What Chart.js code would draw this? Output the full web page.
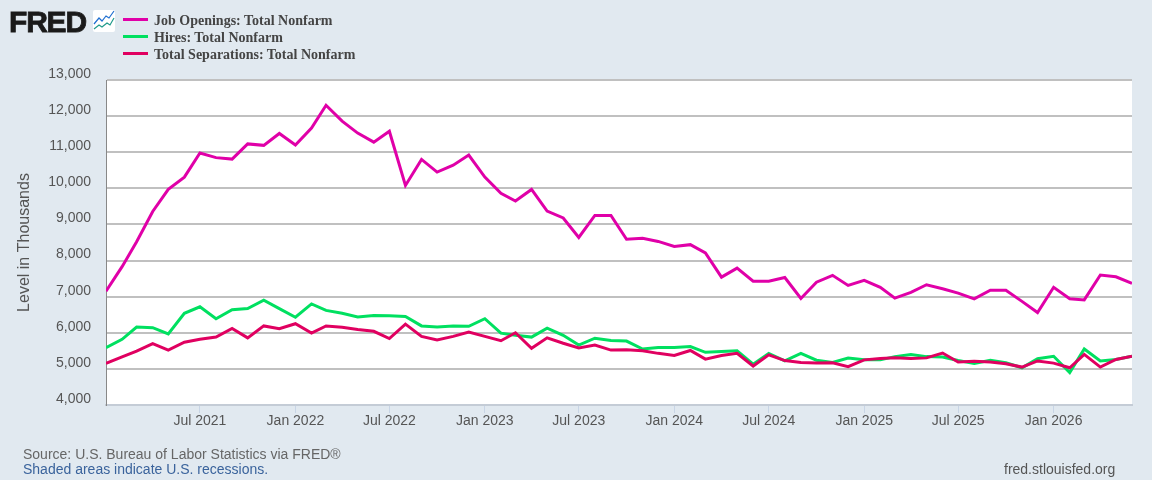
<!DOCTYPE html>
<html>
<head>
<meta charset="utf-8">
<title>FRED chart</title>
<script src="https://cdn.jsdelivr.net/npm/chart.js@4"></script>
<style>
  html, body { margin: 0; padding: 0; background: #e1e9f0; }
  #wrap { position: relative; width: 1152px; height: 480px; overflow: hidden; font-family: "Liberation Sans", Arial, sans-serif; }
  canvas { position: absolute; left: 0; top: 0; }
  .logo { position: absolute; left: 9px; top: 3px; font-size: 30px; line-height: 38px; font-weight: bold; color: #1a1a1a; letter-spacing: -1.2px; -webkit-text-stroke: 0.8px #1a1a1a; }
  .icon { position: absolute; left: 93px; top: 10px; }
  .legend { position: absolute; left: 123px; top: 12px; font-family: "Liberation Serif", serif; font-weight: bold; font-size: 14px; color: #444; }
  .legend div { height: 17px; line-height: 17px; white-space: nowrap; }
  .legend i { display: inline-block; width: 25px; height: 3px; margin-right: 6px; vertical-align: 4px; }
  .note { position: absolute; font-size: 14px; line-height: 16px; white-space: nowrap; }
</style>
</head>
<body>
<div id="wrap">
  <canvas id="chart" width="1152" height="480"></canvas>
  <div class="logo">FRED</div>
  <svg class="icon" width="22" height="22" viewBox="0 0 22 22">
    <rect width="22" height="22" rx="2" fill="#fff"/>
    <polyline points="1,14 6,8 9,11 13,6 16,8 21,1" fill="none" stroke="#1f6fd0" stroke-width="1.2"/>
    <polyline points="1,19 6,15 9,17 14,13 17,15 21,8" fill="none" stroke="#1f9a8a" stroke-width="1.2"/>
  </svg>
  <div class="legend" id="legend"></div>
  <div class="note" style="left:23px;top:446px;color:#666">Source: U.S. Bureau of Labor Statistics via FRED®</div>
  <div class="note" style="left:23px;top:461px;color:#3a639c">Shaded areas indicate U.S. recessions.</div>
  <div class="note" style="left:1004px;top:461px;color:#555">fred.stlouisfed.org</div>
</div>
<script>
// Datos (miles), enero 2021 a junio 2026
const startYear = 2021;
const jobOpenings = [
  7150, 7830, 8520, 9360, 9970, 10310, 10980, 10850, 10810, 11230, 11190, 11520,
  11200, 11670, 12300, 11860, 11530, 11280, 11580, 10080, 10800, 10450, 10640, 10920,
  10310, 9860, 9650, 9970, 9370, 9180, 8640, 9250, 9250, 8590, 8620, 8530,
  8390, 8440, 8210, 7540, 7790, 7430, 7430, 7530, 6950, 7400, 7590, 7310,
  7450, 7260, 6960, 7120, 7330, 7220, 7100, 6940, 7180, 7180, 6870, 6560,
  7260, 6940, 6910, 7600, 7550, 7370
];
const hires = [
  5590, 5820, 6160, 6140, 5970, 6540, 6720, 6390, 6640, 6670, 6900, 6670,
  6430, 6800, 6620, 6540, 6440, 6480, 6470, 6450, 6190, 6160, 6190, 6180,
  6390, 5990, 5930, 5880, 6130, 5930, 5660, 5850, 5785, 5770, 5550, 5590,
  5590, 5620, 5460, 5480, 5500, 5130, 5430, 5220, 5430, 5240, 5180, 5300,
  5250, 5250, 5340, 5400, 5340, 5330, 5230, 5150, 5240, 5170, 5030, 5280,
  5350, 4900, 5550, 5220, 5260, 5350
];
const separations = [
  5150, 5330, 5490, 5700, 5520, 5740, 5820, 5880, 6120, 5860, 6190, 6110,
  6250, 5990, 6190, 6150, 6090, 6040, 5840, 6240, 5900, 5800, 5900, 6020,
  5900, 5780, 6000, 5570, 5860, 5710, 5580, 5660, 5520, 5530, 5500, 5430,
  5370, 5510, 5270, 5370, 5430, 5080, 5390, 5230, 5180, 5160, 5170, 5060,
  5250, 5290, 5305, 5290, 5305, 5440, 5190, 5210, 5190, 5140, 5050, 5220,
  5160, 5030, 5400, 5050, 5260, 5350
];
const seriesNames = ['Job Openings: Total Nonfarm', 'Hires: Total Nonfarm', 'Total Separations: Total Nonfarm'];
const seriesColors = ['#e000a8', '#00e060', '#e00060'];
const tickLabels = ['Jul 2021', 'Jan 2022', 'Jul 2022', 'Jan 2023', 'Jul 2023', 'Jan 2024', 'Jul 2024', 'Jan 2025', 'Jul 2025', 'Jan 2026'];
const monthNames = ['Jan', 'Feb', 'Mar', 'Apr', 'May', 'Jun', 'Jul', 'Aug', 'Sep', 'Oct', 'Nov', 'Dec'];

function monthTime(i) {
  return Date.UTC(startYear, i, 1);
}
function labelTime(label) {
  const parts = label.split(' ');
  return Date.UTC(Number(parts[1]), monthNames.indexOf(parts[0]), 1);
}
function points(values) {
  return values.map((v, i) => ({ x: monthTime(i), y: v }));
}

// Leyenda
document.getElementById('legend').innerHTML = seriesNames.map((name, i) =>
  `<div><i style="background:${seriesColors[i]}"></i>${name}</div>`).join('');

// Fondo blanco del area de trazado
const plotBackground = {
  id: 'plotBackground',
  beforeDraw(chart) {
    const a = chart.chartArea;
    chart.ctx.fillStyle = '#fff';
    chart.ctx.fillRect(a.left, a.top, a.width, a.height);
  }
};

new Chart(document.getElementById('chart').getContext('2d'), {
  type: 'line',
  plugins: [plotBackground],
  data: {
    datasets: [
      { label: seriesNames[0], data: points(jobOpenings), borderColor: seriesColors[0], order: 3 },
      { label: seriesNames[1], data: points(hires), borderColor: seriesColors[1], order: 2 },
      { label: seriesNames[2], data: points(separations), borderColor: seriesColors[2], order: 1 }
    ]
  },
  options: {
    responsive: false,
    animation: false,
    devicePixelRatio: 1,
    layout: { padding: { top: 80, right: 20, left: 0, bottom: 0 } },
    elements: {
      point: { radius: 0 },
      line: { borderWidth: 3, tension: 0, borderJoinStyle: 'miter' }
    },
    plugins: { legend: { display: false }, tooltip: { enabled: false } },
    scales: {
      x: {
        type: 'linear',
        min: monthTime(0),
        max: monthTime(jobOpenings.length - 1),
        afterBuildTicks(scale) { scale.ticks = tickLabels.map(l => ({ value: labelTime(l) })); },
        afterFit(scale) { scale.height = 75; },
        border: { color: '#c4ccd6', width: 2 },
        grid: { drawOnChartArea: false, color: '#c8d5e6', tickLength: 8 },
        ticks: {
          autoSkip: false, maxRotation: 0, padding: 0,
          color: '#555', font: { family: '"Liberation Sans", Arial, sans-serif', size: 14 },
          callback(value) {
            return tickLabels.find(l => labelTime(l) === value) || '';
          }
        }
      },
      y: {
        min: 4000,
        max: 13000,
        afterFit(scale) { scale.width = 106; },
        border: { color: '#888', width: 1 },
        grid: { color: '#c0c0c0', lineWidth: 2, tickLength: 0 },
        title: {
          display: true, text: 'Level in Thousands', color: '#555', padding: { top: 15, bottom: 0 },
          font: { family: '"Liberation Sans", Arial, sans-serif', size: 16 }
        },
        ticks: {
          stepSize: 1000, padding: 15, labelOffset: -6,
          color: '#555', font: { family: '"Liberation Sans", Arial, sans-serif', size: 14 },
          callback(value) { return value.toLocaleString('en-US'); }
        }
      }
    }
  }
});
</script>
</body>
</html>
